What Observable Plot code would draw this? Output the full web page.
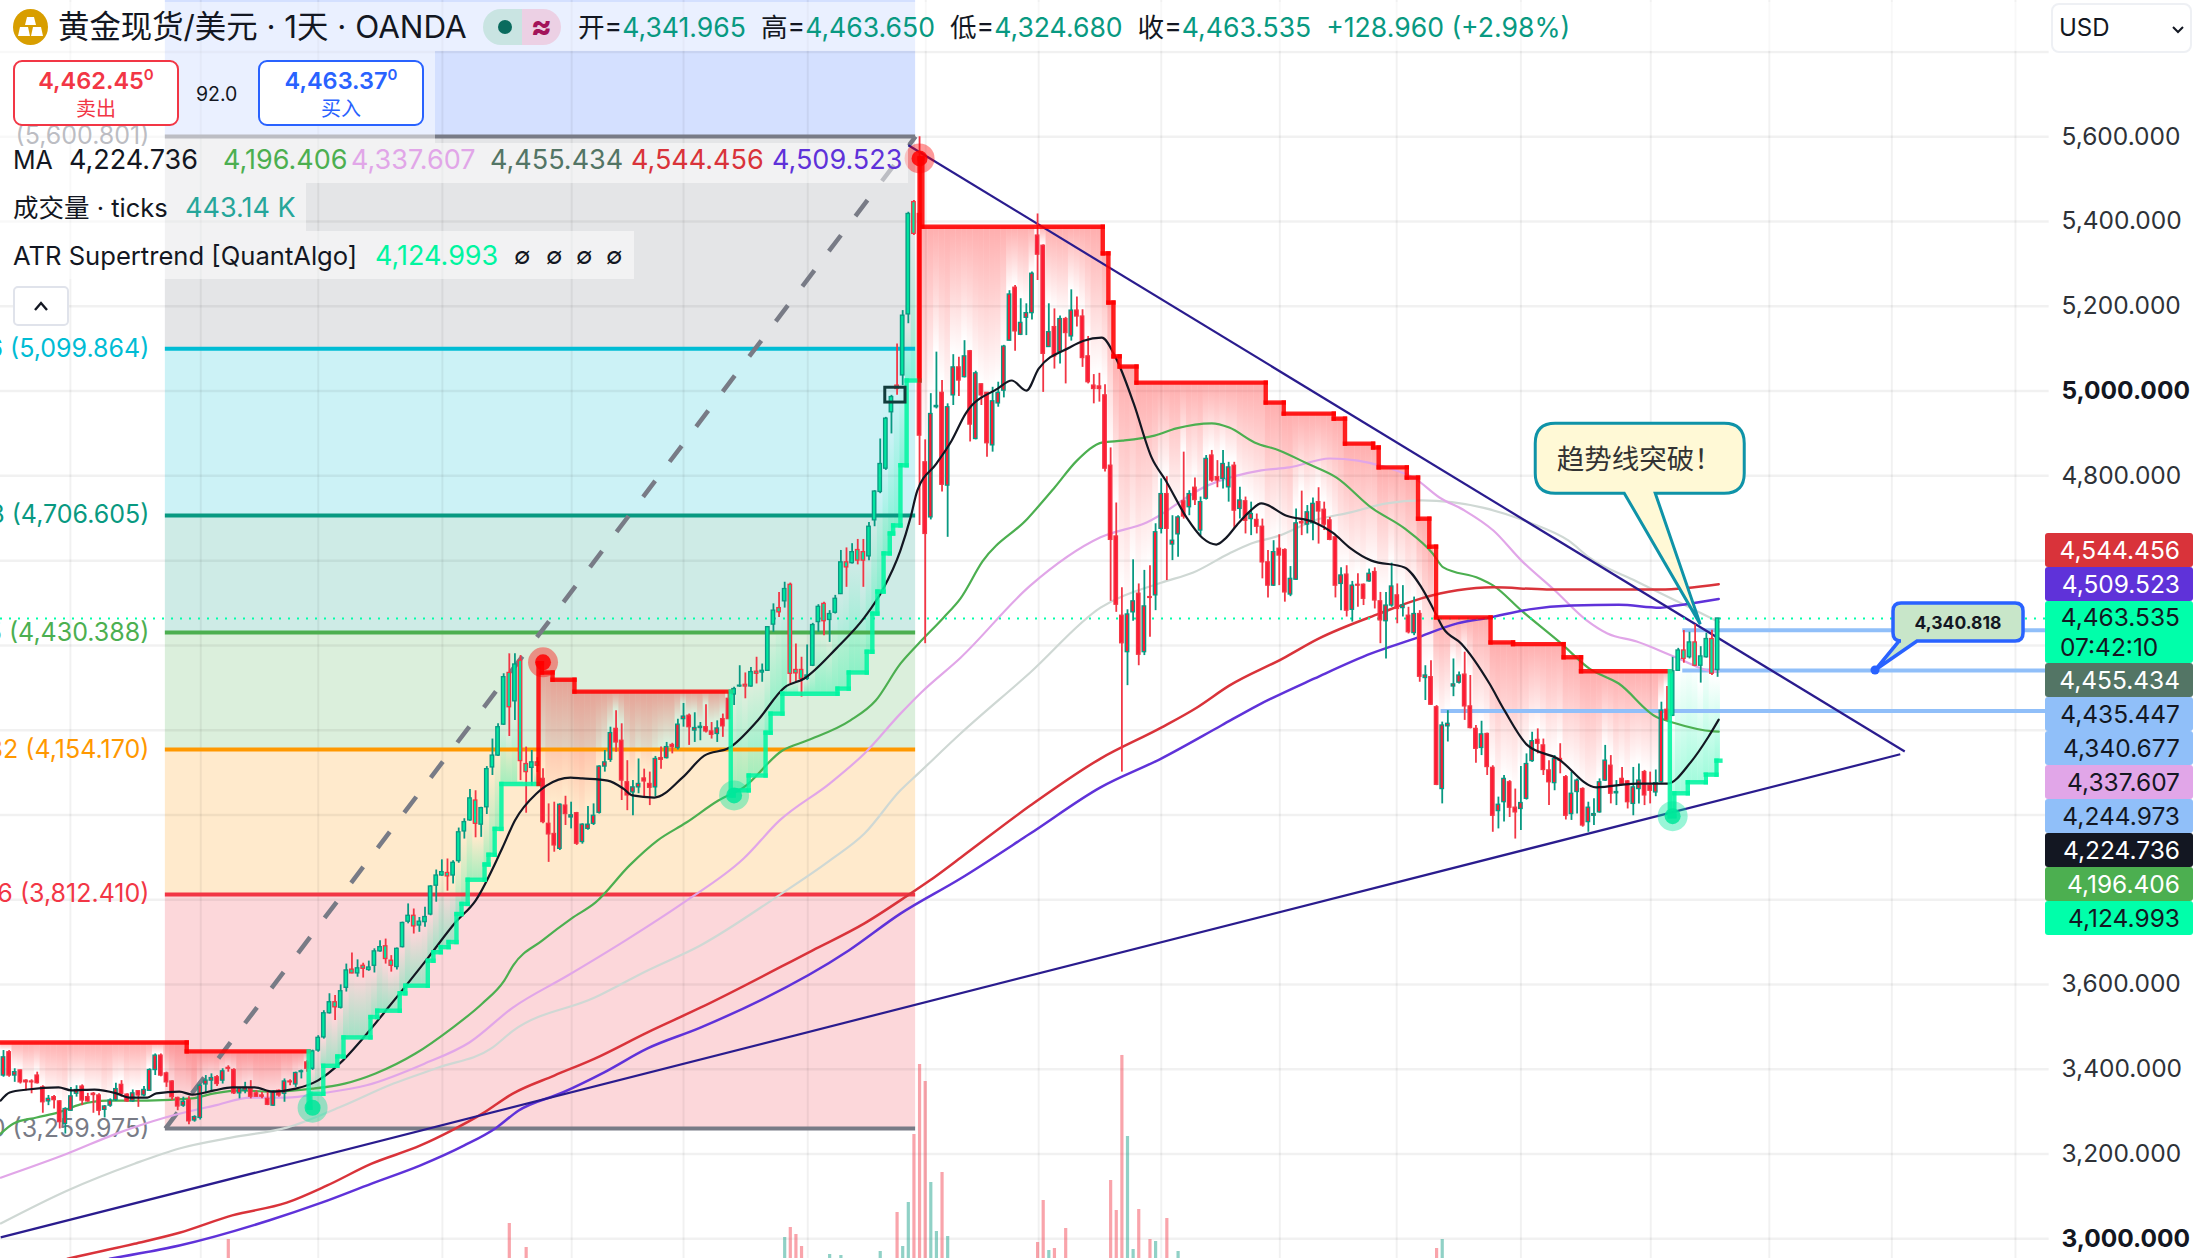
<!DOCTYPE html>
<html><head><meta charset="utf-8">
<script src="https://cdn.jsdelivr.net/npm/d3@7"></script>
<script src="https://cdn.jsdelivr.net/npm/@observablehq/plot@0.6"></script>
<style>
html,body{margin:0;background:#fff}
#wrap{position:relative;width:2200px;height:1258px;overflow:hidden;font-family:Inter,"Noto Sans CJK SC",sans-serif;color:#131722}
#wrap svg{display:block}
.ab{position:absolute;white-space:nowrap}
.veil{position:absolute;background:rgba(255,255,255,.5)}
.row{position:absolute;font-size:27px;line-height:30px;white-space:pre}
.side{position:absolute;left:2045px;width:148px;top:533px}
.side div{height:34px;line-height:34px;font-size:24.5px;text-align:right;padding-right:13px;box-sizing:border-box;border-radius:3px}
.g{color:#089981}
</style></head><body><div id="wrap"></div>
<script>
const opens=[3385,3440,3385,3397,3373,3371,3385,3357,3324,3334,3324,3271,3302,3342,3359,3334,3342,3338,3304,3314,3327,3363,3340,3324,3348,3338,3349,3398,3432,3390,3371,3332,3314,3327,3279,3285,3364,3373,3381,3373,3403,3398,3343,3349,3353,3343,3338,3330,3314,3349,3342,3371,3364,3393,3416,3401,3444,3475,3532,3558,3545,3592,3635,3626,3644,3634,3644,3678,3690,3656,3641,3688,3748,3762,3739,3747,3765,3833,3857,3863,3857,3891,3961,3987,4034,3977,4018,4112,4140,4213,4335,4268,4364,4120,4111,4124,4085,3979,3955,3920,4022,3994,4004,3936,3967,3979,4005,4114,4130,4203,4175,4077,4053,4065,4086,4073,4065,4134,4134,4165,4158,4226,4234,4199,4205,4207,4197,4191,4226,4274,4284,4303,4307,4303,4338,4336,4340,4449,4488,4504,4543,4342,4342,4321,4352,4455,4498,4460,4477,4521,4596,4594,4625,4620,4610,4695,4762,4817,4950,5013,5037,5181,5446,5418,4832,4702,4962,4996,4777,4990,5056,5033,5094,4887,5016,4996,4872,4971,5001,5119,5244,5133,5173,5184,5367,5343,5104,5151,5092,5170,5129,5190,5176,5082,5013,5011,4990,4824,4657,4470,4384,4478,4522,4384,4514,4518,4675,4757,4638,4662,4740,4726,4772,4671,4746,4848,4797,4793,4773,4824,4722,4740,4698,4696,4680,4596,4541,4628,4625,4520,4555,4691,4685,4688,4738,4720,4695,4655,4545,4567,4484,4543,4543,4551,4573,4504,4457,4494,4518,4488,4470,4429,4474,4323,4325,4254,4061,4209,4303,4312,4331,4256,4203,4158,4191,4111,4009,4030,4077,4017,4014,4038,4127,4177,4164,4105,4075,4132,4089,4002,4054,4061,3983,3998,4006,4081,4116,4051,4085,4079,4026,4061,4101,4069,4053,4077,4248,4234,4340,4388,4372,4407,4352,4372,4415,4341.965];
const highs=[3444,3444,3401,3398,3375,3375,3393,3361,3338,3338,3326,3309,3357,3361,3363,3343,3345,3342,3314,3330,3367,3373,3342,3351,3349,3359,3401,3436,3436,3393,3373,3334,3334,3335,3290,3365,3385,3389,3385,3401,3408,3401,3357,3369,3373,3349,3345,3349,3349,3351,3377,3375,3393,3398,3420,3445,3479,3538,3578,3574,3599,3648,3674,3658,3650,3655,3684,3703,3707,3668,3686,3747,3790,3778,3758,3782,3833,3870,3894,3896,3892,3969,3991,4060,4057,4018,4114,4179,4215,4333,4380,4380,4376,4160,4152,4135,4109,4026,4030,4026,4044,4030,4006,3979,4020,4026,4116,4152,4207,4246,4215,4128,4081,4132,4108,4101,4138,4160,4171,4169,4226,4263,4238,4241,4218,4260,4218,4222,4238,4289,4301,4352,4335,4348,4372,4356,4444,4498,4525,4549,4547,4403,4372,4401,4452,4496,4502,4482,4518,4624,4630,4640,4650,4650,4690,4765,4887,4938,4990,5111,5190,5422,5450,5600,4885,4994,5092,5025,4970,5086,5080,5119,5096,5047,5017,4997,5009,5021,5108,5237,5249,5218,5206,5281,5418,5345,5206,5194,5177,5174,5239,5222,5192,5129,5039,5042,5015,4866,4736,4536,4484,4602,4545,4577,4588,4687,4793,4798,4706,4706,4856,4765,4795,4750,4848,4860,4836,4860,4832,4832,4773,4750,4738,4710,4698,4624,4647,4661,4628,4586,4722,4764,4730,4748,4772,4738,4702,4659,4583,4588,4551,4569,4545,4580,4583,4525,4525,4594,4545,4541,4490,4514,4482,4352,4364,4258,4219,4246,4368,4337,4384,4329,4211,4221,4193,4116,4042,4093,4081,4061,4114,4144,4195,4203,4179,4128,4140,4168,4093,4101,4085,4064,4030,4038,4085,4164,4140,4081,4112,4081,4112,4120,4105,4101,4106,4266,4303,4372,4393,4435,4431,4449,4397,4429,4436,4463.65];
const lows=[3381,3381,3369,3365,3349,3342,3365,3296,3314,3306,3259,3247,3301,3334,3314,3322,3296,3290,3285,3310,3324,3334,3322,3322,3310,3335,3348,3385,3382,3357,3326,3302,3310,3269,3275,3280,3342,3349,3359,3365,3393,3340,3330,3342,3330,3334,3330,3314,3312,3334,3322,3361,3357,3377,3393,3397,3440,3471,3530,3515,3542,3582,3625,3617,3615,3631,3627,3676,3648,3629,3634,3686,3743,3719,3723,3735,3762,3794,3855,3820,3837,3886,3943,3985,3946,3947,4001,4093,4138,4211,4185,4223,4081,4004,4068,4100,3979,3888,3912,3916,3975,3967,3928,3931,3964,3975,4002,4101,4124,4148,4034,4010,3998,4050,4042,4022,4043,4108,4132,4144,4153,4207,4164,4171,4175,4193,4179,4171,4183,4225,4258,4301,4274,4301,4309,4313,4339,4431,4466,4488,4309,4313,4278,4317,4350,4431,4423,4407,4474,4520,4537,4592,4590,4537,4600,4680,4758,4813,4899,4990,5013,5159,5367,4683,4404,4696,4958,4762,4655,4966,4987,5031,4880,4885,4966,4844,4856,4962,4984,5118,5094,5131,5131,5168,5261,4997,5104,5052,5064,5017,5118,5151,5056,5017,4970,4974,4809,4504,4478,4101,4305,4457,4352,4376,4419,4482,4663,4553,4600,4608,4698,4706,4730,4659,4743,4785,4772,4769,4738,4675,4698,4663,4659,4663,4557,4512,4539,4541,4502,4515,4553,4659,4663,4647,4639,4671,4647,4512,4482,4467,4455,4490,4494,4549,4486,4404,4368,4490,4451,4467,4427,4423,4313,4270,4258,4069,4026,4172,4279,4309,4223,4203,4122,4140,4093,3959,3967,3983,3994,3943,3963,4035,4124,4144,4093,4022,4057,4097,3988,3987,4002,3971,3959,3975,4004,4079,4026,4022,4069,4014,3998,4026,4022,4026,4043,4075,4222,4232,4339,4358,4368,4350,4311,4370,4329,4324.68];
const closes=[3428,3385,3393,3369,3369,3369,3367,3322,3330,3327,3275,3306,3336,3351,3326,3324,3339,3302,3312,3326,3353,3342,3324,3343,3338,3351,3398,3432,3385,3369,3334,3312,3323,3277,3287,3361,3373,3379,3365,3395,3401,3343,3355,3356,3335,3335,3335,3316,3347,3338,3371,3369,3391,3395,3401,3442,3474,3532,3558,3546,3584,3633,3626,3638,3637,3640,3678,3688,3660,3644,3684,3745,3762,3737,3748,3759,3831,3857,3865,3855,3887,3959,3983,4039,3979,4016,4108,4140,4207,4325,4254,4355,4127,4101,4124,4116,3983,3954,3928,4024,4002,3999,3932,3977,3977,3998,4114,4124,4193,4171,4081,4046,4065,4073,4079,4064,4132,4130,4160,4160,4213,4232,4207,4205,4208,4197,4189,4204,4209,4226,4297,4305,4303,4337,4333,4340,4443,4482,4478,4533,4333,4334,4321,4329,4448,4491,4457,4474,4510,4596,4584,4620,4600,4600,4680,4763,4828,4935,4986,5005,5178,5418,5371,4895,4663,4946,4965,4779,4962,5056,5025,5082,4921,5042,4990,4877,4976,4996,5105,5228,5141,5161,5184,5277,5322,5088,5139,5082,5170,5137,5190,5176,5078,5021,5005,5005,4817,4649,4496,4405,4473,4504,4378,4492,4512,4667,4757,4675,4647,4702,4704,4757,4743,4738,4840,4789,4789,4828,4820,4718,4742,4694,4710,4680,4596,4541,4620,4612,4525,4557,4688,4688,4714,4734,4716,4685,4649,4541,4565,4482,4541,4541,4510,4569,4506,4459,4494,4539,4486,4494,4431,4474,4326,4329,4260,4071,4211,4215,4308,4329,4256,4205,4156,4190,4113,3998,4024,4085,4017,4006,4028,4120,4174,4168,4106,4077,4132,4128,3998,4050,4081,3975,4017,4002,4077,4128,4050,4054,4073,4030,4065,4081,4046,4057,4075,4246,4224,4339,4388,4368,4407,4352,4374,4415,4333,4463.535];

// supertrend step levels
const stBars=[-0.6,32.6,54.3,54.6,56.9,59.4,60.5,65.3,66.5,70.5,71.5,75.5,76.5,77.8,79.2,80.6,81.5,82.6,85.6,86.3,87.4,88.6,95.2,95.8,97.7,101.6,129.4,129.9,132.6,135.6,136.5,138.6,148.4,150.4,153.6,154.6,155.5,156.6,157.7,158.3,159.6,160.7,163,163.5,195.6,196.6,197.5,198.6,201.6,224.6,227.8,236.7,238.7,243.7,244.7,249.7,251.7,253.7,254.9,264.6,268.6,277.6,280.7,296.5,297.3,299.7,302.9,304.8];
const stLevels=[3463,3442,3309,3342,3408,3430,3475,3523,3538,3579,3597,3656,3676,3688,3700,3766,3790,3847,3883,3906,3967,4073,4358,4336,4319,4291,4046,4058,4093,4194,4239,4286,4298,4336,4385,4475,4527,4617,4664,4683,4825,5025,5549,5388,5325,5209,5082,5058,5020,4973,4947,4935,4876,4867,4820,4796,4699,4633,4466,4407,4403,4372,4339,3997,4051,4077,4095,4128];
const flipBars=[54.3,95.2,129.4,163,296.5]; // bars where the trend flips, first trend is down
const stEnd=305.5;
const signalBars=[55,96,130,163,297];
const signalPrices=[3309,4360,4046,5549,3997];

// moving averages (bar, value)
const ma1Bars=[-0.5,1.1,4.3,9.8,12.1,16.2,20.1,22.4,25.6,27.2,31.3,33.6,37.5,40.7,44.7,47.9,52,55.9,59.8,63.9,68.5,75.6,80.4,84,88.8,91,94.8,96.6,100.9,103,107.5,110.3,111.9,115.8,120.8,124.7,129.2,134.2,139,142.5,148.2,153.2,156.4,159.6,161.4,162.6,166,168.7,171.2,176.9,179.4,182,184.2,189.7,192.2,195.4,197.9,201.1,204.3,206.8,210.5,213.3,215.8,217.4,219.4,221.9,223.8,228.3,233.3,236.5,239.7,243.4,249.3,252.3,254.3,256.2,259.4,264.4,267.1,271.2,276.5,283.4,290.6,296.1,300.2,303.4,305.2];
const ma1Vals=[3326,3345,3352,3357,3350,3352,3343,3333,3333,3343,3347,3340,3350,3357,3357,3347,3354,3373,3413,3472,3546,3664,3746,3798,3923,3987,4050,4069,4088,4086,4081,4062,4046,4041,4088,4140,4159,4223,4301,4322,4393,4466,4530,4624,4702,4765,4829,4883,4947,5006,5025,5001,5053,5103,5119,5126,5079,4971,4843,4789,4702,4654,4638,4652,4683,4718,4735,4706,4690,4666,4629,4600,4584,4537,4489,4440,4404,4310,4246,4164,4133,4065,4074,4074,4124,4185,4224.736];
const ma2Bars=[-0.5,1.8,5.9,9.8,13.7,18.5,25.6,33.6,37.5,42.3,47.2,55,60.7,66.2,73.3,79.7,85.2,89.1,90.7,95.9,101.1,105.3,111.4,116.4,121.5,127.2,131.7,138.6,143.1,150.7,155.2,159.6,162.8,167.3,170.3,174.2,182.2,187,191,195.6,199.1,204.8,208.7,215,218.1,222.6,227,232,237.2,243.4,249.3,254.3,256.2,262.6,265.1,270.1,277.2,282.2,287.4,294.3,295.4,297,304.3,305.2];
const ma2Vals=[3248,3272,3286,3298,3317,3326,3326,3331,3343,3350,3347,3354,3366,3390,3437,3496,3555,3609,3645,3704,3756,3793,3881,3940,3982,4034,4065,4152,4176,4223,4270,4357,4404,4466,4511,4598,4699,4772,4836,4879,4883,4895,4912,4924,4914,4879,4860,4829,4796,4725,4676,4617,4584,4558,4541,4482,4404,4345,4310,4230,4225,4218,4197,4196.406];
const ma3Bars=[-0.5,11.4,20.1,28.8,37.5,44,50.4,56.6,64.6,74.9,82.9,90.7,100.4,110.7,121,131.7,138.1,147,153.2,159.6,163.3,170.3,182.7,195.2,203.4,214.2,223.8,228.8,236,241,246.1,251.1,255.5,260,265.1,270.1,276,281.7,285.4,290.6,297.7,304.3,305.2];
const ma3Vals=[3144,3201,3248,3286,3314,3333,3333,3343,3362,3413,3463,3546,3621,3704,3793,3897,3987,4074,4145,4239,4289,4371,4541,4655,4690,4777,4813,4820,4841,4836,4820,4794,4749,4718,4671,4600,4530,4459,4428,4409,4371,4338,4337.607];
const ma4Bars=[-0.5,11.4,23.3,31.3,40.7,50.4,59.8,69.4,77.4,86.8,90.7,105.2,114.6,124,137.4,147,153.2,159.6,162.8,170.3,182.7,195.2,206,211.7,218.1,221.9,227,233.3,239.7,246.1,252.3,263.2,271.5,278.5,282.2,290.6,298.6,305.2];
const ma4Vals=[3036,3114,3177,3213,3239,3262,3310,3366,3404,3449,3491,3569,3633,3692,3805,3892,3956,4058,4098,4192,4336,4489,4548,4572,4617,4640,4659,4695,4714,4735,4742,4725,4690,4647,4607,4551,4499,4455.434];
const ma5Bars=[11.4,23.3,31.3,40.7,50.4,57.5,65.5,74.2,79.7,85.2,90.7,98,105.2,114.6,124,143.9,153.2,160.9,164.8,170.3,182.7,195.2,206,212.3,218.1,227.6,234,244.8,252.3,258.7,265.1,274.6,284.2,294.8,305.2];
const ma5Vals=[2953,2988,3014,3055,3085,3125,3177,3220,3255,3295,3343,3385,3425,3487,3545,3680,3744,3810,3845,3899,4022,4133,4206,4253,4305,4369,4416,4475,4511,4530,4537,4532,4532,4532,4544.456];
const ma6Bars=[18.9,31.3,47.2,56.6,65.5,74.2,82,87.7,91.6,99.5,106.8,114.6,124,150.4,159.6,170.3,182.7,195.2,206,216.7,223.1,233.3,243.4,251.1,258.7,264.4,271.5,279,287.4,294.8,297.7,305.2];
const ma6Vals=[2953,2984,3043,3085,3130,3173,3220,3262,3302,3345,3392,3449,3498,3680,3767,3850,3956,4065,4133,4211,4258,4322,4381,4416,4452,4466,4485,4494,4496,4489,4494,4509.523];

// fibonacci retracement
const fibRatios=["","0.786","0.618","0.5","0.382","0.236","0"];
const fibPrices=[5600.801,5099.864,4706.605,4430.388,4154.17,3812.41,3259.975];
const fibColors=["#787b86","#00bcd4","#089981","#4caf50","#ff9800","#f23645","#787b86"];
const fibBars=[28.8,162.3];

// trend lines
const upperBars=[161,338.3], upperVals=[5580,4149.6];
const lowerBars=[-0.5,337.5], lowerVals=[3003,4143];

// horizontal levels and callouts
const levelPrices=[4435.447,4340.677,4244.973];
const levelStart=[298.8,298.8,255.8];
const lastPrice=4463.535;
const breakoutBar=302, breakoutPrice=4449;
const measureBar=333.1, measurePrice=4340.677;
const boxBars=[156.9,160.5], boxPrices=[4973,5008];

// volume (K ticks), visible bars only
const volBars=[40,90,93,139,140,141,142,147,149,156,159,160,161,162,163,164,165,166,167,168,184,185,186,187,189,197,198,199,200,201,202,204,205,207,209,255,256];
const volVals=[640,800,560,660,760,690,570,490,480,520,910,570,1010,1690,2390,2220,1210,720,1310,670,610,1030,530,550,750,1230,930,2480,1670,540,940,640,620,850,520,550,640];
const volUp=[0,0,0,1,0,0,0,1,1,1,0,1,1,0,0,0,1,1,0,1,0,0,1,0,0,0,0,0,1,1,0,0,1,0,1,0,1];
const volFloor=450;

// axes
const gridBars=[11.9,35.1,56,78.1,101.1,121,143.1,164.1,184.2,206,227.1,247.9,270,293.1,314.2,336,358];
const gridPrices=[5800,5600,5400,5200,5000,4800,4600,4400,4200,4000,3800,3600,3400,3200,3000];
const tickPlain=[5600,5400,5200,4800,3600,3400,3200];
const tickBold=[5000,3000];

// tags on the price scale
const tagTexts=["4,544.456","4,509.523","4,463.535","4,455.434","4,435.447","4,340.677","4,337.607","4,244.973","4,224.736","4,196.406","4,124.993"];
const tagFill=["#d9333a","#5f32d9","#00ffaa","#537565","#90bff9","#90bff9","#e1a6e8","#90bff9","#131722","#4caf50","#00ffaa"];
const tagInk=["#fff","#fff","#131722","#fff","#131722","#131722","#131722","#131722","#fff","#fff","#131722"];

const xMin=-3/5.62, xMax=2197/5.62, yMin=2953.3, yMax=5921.7, edge=364;
const fmt=d3.format(",.3f");
const RED="#ff1a33", GRN="#00e6a0", TEAL="#089981", LINE_RED="#f23645";

const segDown=b=>{let d=true;for(const f of flipBars) if(b>=f) d=!d;return d;};
const levelAt=b=>{let l=stLevels[0];for(let j=0;j<stBars.length;j++) if(stBars[j]<=b) l=stLevels[j];return l;};

const bars=opens.map((o,i)=>({i,o,h:highs[i],l:lows[i],c:closes[i],up:closes[i]>=o,down:segDown(i),
  top:Math.max(o,closes[i]),bot:Math.min(o,closes[i])}));
const strips=bars.map(b=>({i:b.i,down:b.down,a:levelAt(b.i),b:b.down?b.h:b.l}))
  .filter(s=>s.down? s.a>s.b : s.a<s.b);

const hSegs=stBars.map((b,j)=>({x1:b,x2:j+1<stBars.length?stBars[j+1]:stEnd,y1:stLevels[j],y2:stLevels[j],down:segDown(b)}));
const vSegs=stBars.slice(1).map((b,j)=>({x1:b,x2:b,y1:stLevels[j],y2:stLevels[j+1],down:segDown(b)}));
const segs=[...hSegs,...vSegs];

const zones=[{a:yMax,b:fibPrices[0],c:"#2962ff"},...fibPrices.slice(0,-1).map((p,i)=>({a:p,b:fibPrices[i+1],c:fibColors[i]}))];
const fibRows=fibPrices.map((p,i)=>({p,c:fibColors[i],label:`${fibRatios[i]} (${fmt(p)})`.trim()}));
const signals=signalBars.map((b,i)=>({b,p:signalPrices[i],down:i%2===1}));
const lineOf=(xs,ys)=>xs.map((x,i)=>({x,y:ys[i]}));
const maLine=(xs,ys,stroke,w=2.2)=>Plot.line(lineOf(xs,ys),{x:"x",y:"y",stroke,strokeWidth:w,curve:"monotone-x"});
const vols=volBars.map((b,i)=>({b,v:volVals[i],up:volUp[i]}));
const volY=v=>yMin+(v-volFloor)*0.236;

function defs(){
  const d=d3.create("svg:defs");
  const mk=(id,c,top,bot)=>{const g=d.append("linearGradient").attr("id",id).attr("x1",0).attr("x2",0).attr("y1",0).attr("y2",1);
    g.append("stop").attr("offset","0%").attr("stop-color",c).attr("stop-opacity",top);
    g.append("stop").attr("offset","100%").attr("stop-color",c).attr("stop-opacity",bot);};
  mk("gDown","#ff0000",.32,0);mk("gUp","#00f5a0",0,.36);
  return d.node();
}
function callouts(index,{x,y}){
  const g=d3.create("svg:g");
  const bubble=(tx,ty,L,R,T,B,r,a,b)=>`M${L+r},${T}H${R-r}Q${R},${T} ${R},${T+r}V${B-r}Q${R},${B} ${R-r},${B}H${b}L${tx},${ty}L${a},${B}H${L+r}Q${L},${B} ${L},${B-r}V${T+r}Q${L},${T} ${L+r},${T}Z`;
  let tx=x(breakoutBar),ty=y(breakoutPrice);
  g.append("path").attr("d",bubble(tx,ty,tx-165,tx+44,ty-201,ty-131,20,tx-76,tx-45)).attr("fill","#fff9d6").attr("stroke","#0f93a8").attr("stroke-width",3);
  g.append("text").attr("x",tx-61).attr("y",ty-167).attr("text-anchor","middle").attr("dominant-baseline","central")
    .attr("font-size",27.5).attr("fill","#333").attr("font-family",'"Noto Sans CJK SC",sans-serif').text("趋势线突破！");
  tx=x(measureBar);ty=y(measurePrice);
  g.append("path").attr("d",bubble(tx,ty,tx+18,tx+148,ty-67,ty-29,8,tx+24,tx+42)).attr("fill","#c8e6c9").attr("stroke","#2962ff").attr("stroke-width",3.5);
  g.append("circle").attr("cx",tx).attr("cy",ty).attr("r",4.5).attr("fill","#2962ff");
  g.append("text").attr("x",tx+83).attr("y",ty-48).attr("text-anchor","middle").attr("dominant-baseline","central")
    .attr("font-size",17.5).attr("font-weight",700).attr("fill","#131722").text("4,340.818");
  return g.node();
}

const plot=Plot.plot({
  width:2200,height:1258,margin:0,
  style:{background:"#fff",fontFamily:'Inter,"Noto Sans CJK SC",sans-serif',overflow:"hidden"},
  x:{type:"linear",domain:[xMin,xMax],range:[0,2200],axis:null},
  y:{type:"linear",domain:[yMin,yMax],range:[1258,0],axis:null},
  marks:[
    defs,
    Plot.rect(zones,{x1:()=>fibBars[0],x2:()=>fibBars[1],y1:"a",y2:"b",fill:d=>d.c,fillOpacity:.2}),
    Plot.ruleY(gridPrices,{x1:()=>xMin,x2:()=>edge,stroke:"#000",strokeOpacity:.055,strokeWidth:2.5}),
    Plot.ruleX(gridBars,{y1:()=>yMin,y2:()=>yMax,stroke:"#000",strokeOpacity:.055,strokeWidth:2}),
    Plot.ruleX(vols,{x:"b",y1:()=>yMin,y2:d=>volY(d.v),stroke:d=>d.up?TEAL:LINE_RED,strokeOpacity:.45,strokeWidth:3.2}),
    Plot.rect(strips,{x1:d=>d.i-.5,x2:d=>d.i+.5,y1:"a",y2:"b",fill:d=>d.down?"url(#gDown)":"url(#gUp)"}),
    Plot.ruleY(fibRows,{x1:()=>fibBars[0],x2:()=>fibBars[1],y:"p",stroke:"c",strokeWidth:4}),
    Plot.text(fibRows,{y:"p",x:()=>fibBars[0],dx:-16,text:"label",textAnchor:"end",fill:"c",fontSize:25}),
    Plot.link([0],{x1:()=>fibBars[0],x2:()=>fibBars[1],y1:()=>fibPrices[6],y2:()=>fibPrices[0],stroke:"#787b86",strokeWidth:4.5,strokeDasharray:"20 24"}),
    Plot.ruleY(levelPrices,{x1:(d,i)=>levelStart[i],x2:()=>edge,stroke:"#90bff9",strokeWidth:4}),
    maLine(ma4Bars,ma4Vals,"#cfd8d4"),
    maLine(ma3Bars,ma3Vals,"#e1a6e8"),
    maLine(ma2Bars,ma2Vals,"#4caf50"),
    maLine(ma5Bars,ma5Vals,"#d9333a",2.5),
    maLine(ma6Bars,ma6Vals,"#5f32d9",2.5),
    Plot.link([0],{x1:()=>upperBars[0],x2:()=>upperBars[1],y1:()=>upperVals[0],y2:()=>upperVals[1],stroke:"#2a1c8e",strokeWidth:2.2}),
    Plot.link([0],{x1:()=>lowerBars[0],x2:()=>lowerBars[1],y1:()=>lowerVals[0],y2:()=>lowerVals[1],stroke:"#2a1c8e",strokeWidth:2.2}),
    Plot.ruleY([lastPrice],{x1:()=>xMin,x2:()=>edge,stroke:"#00ffaa",strokeWidth:2,strokeDasharray:"2 7"}),
    Plot.ruleX(bars,{x:"i",y1:"l",y2:"h",stroke:d=>d.up?TEAL:LINE_RED,strokeWidth:1.8}),
    Plot.rect(bars,{x1:d=>d.i-.31,x2:d=>d.i+.31,y1:"bot",y2:"top",fill:d=>d.down?RED:GRN,stroke:d=>d.up?TEAL:LINE_RED,strokeWidth:1.3}),
    maLine(ma1Bars,ma1Vals,"#131722"),
    Plot.link(segs,{x1:"x1",x2:"x2",y1:"y1",y2:"y2",stroke:d=>d.down?"#ff0000":"#00f5a0",strokeOpacity:.88,strokeWidth:4.4,strokeLinecap:"square"}),
    Plot.dot(signals,{x:"b",y:"p",r:15,fill:d=>d.down?"#ff0000":"#00e69a",fillOpacity:.4}),
    Plot.dot(signals,{x:"b",y:"p",r:8,fill:d=>d.down?"#ff0000":"#00e69a",fillOpacity:.85}),
    Plot.rect([0],{x1:()=>boxBars[0],x2:()=>boxBars[1],y1:()=>boxPrices[0],y2:()=>boxPrices[1],fill:"none",stroke:"#123c3c",strokeWidth:3}),
    callouts,
    Plot.text(tickPlain,{y:d=>d,text:d=>fmt(d),frameAnchor:"right",dx:-139,textAnchor:"start",fontSize:24.5,fill:"#2e3238"}),
    Plot.text(tickBold,{y:d=>d,text:d=>fmt(d),frameAnchor:"right",dx:-139,textAnchor:"start",fontSize:24.5,fontWeight:700,fill:"#131722"})
  ]
});

const wrap=document.getElementById("wrap");
wrap.appendChild(plot);
const chrome=document.createElement("div");
chrome.innerHTML=`
<div class="veil" style="left:0;top:2px;width:2040px;height:49px"></div>
<div class="veil" style="left:0;top:51px;width:435px;height:92px"></div>
<div class="veil" style="left:0;top:143px;width:908px;height:40px"></div>
<div class="veil" style="left:0;top:183px;width:306px;height:48px"></div>
<div class="veil" style="left:0;top:231px;width:634px;height:48px"></div>

<div class="ab" style="left:13px;top:9px;width:35px;height:36px;border-radius:50%;background:#d89e00"></div>
<svg class="ab" style="left:13px;top:9px" width="35" height="36"><g fill="#fff"><path d="M14 8h7l2 8H12z"/><path d="M7 18h8l2 9H5z"/><path d="M20 18h8l2 9H18z"/></g></svg>
<div class="ab" style="left:58px;top:7px;font-size:31.4px;line-height:40px">黄金现货/美元 · 1天 · OANDA</div>
<div class="ab" style="left:483px;top:9px;width:39px;height:36px;background:#c9e4e2;border-radius:18px 0 0 18px"></div>
<div class="ab" style="left:522px;top:9px;width:39px;height:36px;background:#ecd0e4;border-radius:0 18px 18px 0;color:#a3135a;font-weight:800;font-size:31px;line-height:33px;text-align:center">≈</div>
<div class="ab" style="left:498px;top:20px;width:14px;height:14px;border-radius:50%;background:#0a6b5e"></div>
<div class="ab" style="left:578px;top:9px;font-size:26.6px;line-height:36px">开=<span class="g">4,341.965</span>&nbsp; 高=<span class="g">4,463.650</span>&nbsp; 低=<span class="g">4,324.680</span>&nbsp; 收=<span class="g">4,463.535 &nbsp;+128.960 (+2.98%)</span></div>

<div class="ab" style="left:13px;top:60px;width:166px;height:66px;box-sizing:border-box;border:2px solid #f23645;border-radius:9px;background:#fff;color:#f23645;text-align:center">
 <div style="font-size:23.5px;font-weight:600;line-height:30px;margin-top:4px">4,462.45<sup style="font-size:15px;line-height:0">0</sup></div><div style="font-size:20px;line-height:26px">卖出</div></div>
<div class="ab" style="left:196px;top:80px;font-size:19.5px;line-height:28px">92.0</div>
<div class="ab" style="left:258px;top:60px;width:166px;height:66px;box-sizing:border-box;border:2px solid #2962ff;border-radius:9px;background:#fff;color:#2962ff;text-align:center">
 <div style="font-size:23.5px;font-weight:600;line-height:30px;margin-top:4px">4,463.37<sup style="font-size:15px;line-height:0">0</sup></div><div style="font-size:20px;line-height:26px">买入</div></div>

<div class="row" style="left:13px;top:145px;font-size:25px">MA</div>
<div class="row" style="left:69px;top:145px">4,224.736</div>
<div class="row" style="left:223px;top:145px;color:#4caf50">4,196.406</div>
<div class="row" style="left:351px;top:145px;color:#e1a6e8">4,337.607</div>
<div class="row" style="left:490px;top:145px;color:#537565">4,455.434</div>
<div class="row" style="left:631px;top:145px;color:#d9333a">4,544.456</div>
<div class="row" style="left:772px;top:145px;color:#5f32d9">4,509.523</div>
<div class="row" style="left:13px;top:193px;font-size:25.5px">成交量 · ticks</div>
<div class="row" style="left:185px;top:193px;color:#26a69a">443.14 K</div>
<div class="row" style="left:13px;top:241px;font-size:25.6px">ATR Supertrend [QuantAlgo]</div>
<div class="row" style="left:375px;top:241px;color:#00f5a0">4,124.993</div>
<div class="row" style="left:514px;top:241px;font-size:24px">∅</div>
<div class="row" style="left:546px;top:241px;font-size:24px">∅</div>
<div class="row" style="left:576px;top:241px;font-size:24px">∅</div>
<div class="row" style="left:606px;top:241px;font-size:24px">∅</div>
<div class="ab" style="left:13px;top:286px;width:56px;height:40px;box-sizing:border-box;border:2px solid #e0e3eb;border-radius:5px;background:#fff"><svg width="52" height="36"><path d="M20 22l6-7 6 7" fill="none" stroke="#131722" stroke-width="2.4"/></svg></div>

<div class="ab" style="left:2051px;top:3px;width:141px;height:50px;box-sizing:border-box;border:2px solid #eef0f4;border-radius:8px;background:#fff;font-size:24px;line-height:46px;padding-left:6px">USD<svg class="ab" style="right:6px;top:20px" width="12" height="10"><path d="M1 2l5 5 5-5" fill="none" stroke="#131722" stroke-width="2"/></svg></div>
`;
const side=document.createElement("div");side.className="side";
tagTexts.forEach((t,i)=>{const d=document.createElement("div");d.style.background=tagFill[i];d.style.color=tagInk[i];
  if(i===2){d.style.height="62px";d.style.lineHeight="30px";d.style.paddingTop="1px";d.innerHTML=t+'<br><span style="display:inline-block;width:100%;text-align:left;padding-left:15px;box-sizing:border-box">07:42:10</span>';}
  else d.textContent=t;side.appendChild(d);});
chrome.appendChild(side);
wrap.appendChild(chrome);
</script></body></html>
